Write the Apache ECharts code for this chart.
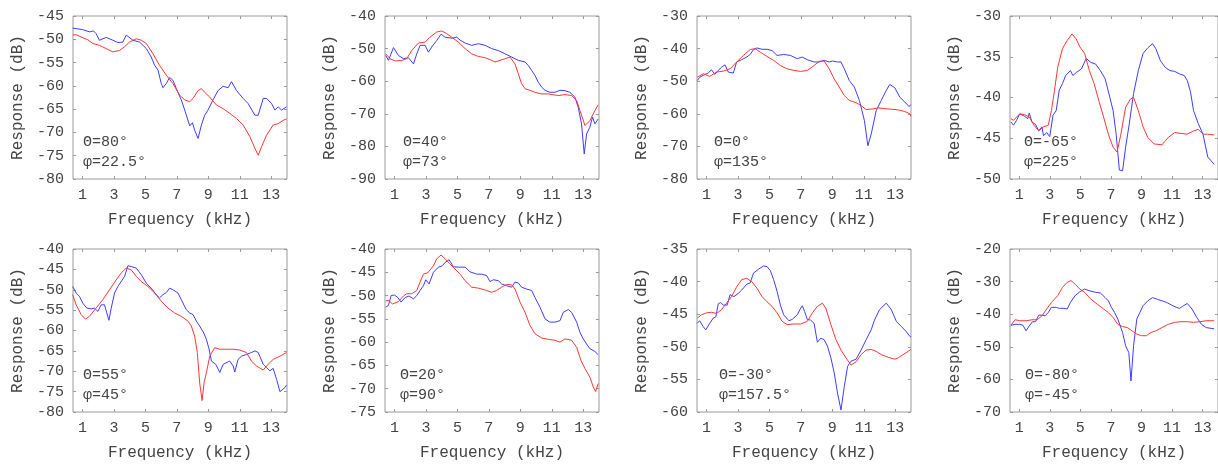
<!DOCTYPE html>
<html>
<head>
<meta charset="utf-8">
<script src="https://cdn.jsdelivr.net/npm/echarts@6/dist/echarts.min.js"></script>
<style>
html, body { margin: 0; padding: 0; background: #fff; }
#main { width: 1218px; height: 466px; }
</style>
</head>
<body>
<div id="main"></div>
<script>
// frequency ticks (kHz)
var xTicks = [1, 3, 5, 7, 9, 11, 13];
var xName = 'Frequency (kHz)';
var yName = 'Response (dB)';

// y ranges per panel: [min, max, step]
var yRanges = [[-80, -45, 5], [-90, -40, 10], [-80, -30, 10], [-50, -30, 5],
               [-80, -40, 5], [-75, -40, 5], [-60, -35, 5], [-70, -20, 10]];

var angleLabels = [['Θ=80°', 'φ=22.5°'], ['Θ=40°', 'φ=73°'], ['Θ=0°', 'φ=135°'], ['Θ=-65°', 'φ=225°'],
                   ['Θ=55°', 'φ=45°'], ['Θ=20°', 'φ=90°'], ['Θ=-30°', 'φ=157.5°'], ['Θ=-80°', 'φ=-45°']];

// [kHz, dB]
var blue1 = [[0.38,-47.6],[0.98,-47.9],[1.45,-48.4],[1.70,-48.2],[1.87,-48.8],[2.08,-50.2],[2.51,-49.6],[2.93,-50.2],[3.25,-50.7],[3.57,-50.6],[3.78,-49.1],[4.21,-50.2],[4.63,-50.6],[5.06,-52],[5.37,-53.8],[5.59,-55.6],[5.80,-56.6],[6.01,-59.5],[6.12,-60.4],[6.33,-59.5],[6.54,-58.2],[6.75,-58.8],[6.97,-60.6],[7.28,-63],[7.50,-65.2],[7.82,-68.6],[7.99,-67.9],[8.13,-69.5],[8.35,-71.3],[8.56,-68.4],[8.77,-66.3],[8.98,-65.2],[9.30,-63],[9.62,-61],[9.94,-60.1],[10.26,-60.4],[10.47,-59.1],[10.79,-61],[11.21,-62.7],[11.53,-63.8],[11.96,-66.3],[12.17,-66.3],[12.49,-62.7],[12.70,-62.7],[13.02,-63.8],[13.23,-65.2],[13.44,-64.5],[13.65,-65.2],[13.97,-64.5]];
var red1 = [[0.38,-49.1],[0.60,-49],[0.98,-49.6],[1.34,-50.1],[1.66,-50.9],[2.08,-51.3],[2.51,-52],[2.93,-52.7],[3.36,-52.4],[3.68,-51.6],[3.99,-50.6],[4.42,-49.9],[4.74,-50.2],[5.06,-50.9],[5.48,-53.1],[5.90,-55.6],[6.33,-57.7],[6.75,-59.5],[7.18,-62],[7.50,-63],[7.82,-63.4],[8.03,-62.7],[8.35,-61],[8.56,-60.6],[8.77,-61.4],[9.09,-62.4],[9.51,-64.1],[9.94,-64.9],[10.36,-65.9],[10.79,-67],[11.21,-68.4],[11.64,-70.9],[11.96,-73.4],[12.17,-74.9],[12.38,-73.1],[12.70,-70.6],[13.12,-68.4],[13.44,-68.1],[13.76,-67.4],[13.97,-67.1]];

var blue2 = [[0.45,-52.1],[0.62,-53.6],[0.94,-49.7],[1.25,-52.1],[1.57,-53.1],[1.89,-52.8],[2.21,-54.7],[2.42,-51.6],[2.63,-49],[2.95,-49],[3.16,-51.1],[3.37,-49.5],[3.69,-47.5],[3.96,-45.6],[4.22,-46.5],[4.64,-46.8],[4.96,-46.5],[5.17,-47.4],[5.49,-48.3],[5.91,-49],[6.33,-48.5],[6.76,-49],[7.18,-50],[7.60,-50.6],[8.03,-51.6],[8.45,-52.6],[8.87,-53.6],[9.30,-54.1],[9.51,-55.2],[9.72,-56.7],[9.93,-58.2],[10.14,-60.3],[10.35,-61.8],[10.57,-62.8],[10.88,-63.4],[11.20,-63.4],[11.52,-62.8],[11.84,-62.9],[12.15,-63.4],[12.47,-64.9],[12.68,-68],[12.89,-73.1],[13.06,-82.3],[13.21,-76.2],[13.42,-74.1],[13.59,-71],[13.74,-73.1],[13.95,-71.6]];
var red2 = [[0.45,-51.6],[0.72,-53.1],[1.04,-53.8],[1.47,-53.6],[1.78,-53.1],[2.10,-50.6],[2.52,-48.3],[2.95,-48],[3.26,-46.5],[3.69,-44.9],[4.01,-44.6],[4.32,-45.4],[4.64,-46.5],[5.06,-48],[5.49,-50],[5.91,-51.6],[6.33,-52.4],[6.76,-52.8],[7.18,-53.6],[7.39,-54.1],[7.71,-53.6],[8.03,-53.1],[8.34,-52.6],[8.66,-54.7],[8.87,-57.7],[9.08,-60.8],[9.30,-62.3],[9.61,-62.8],[9.93,-63.4],[10.35,-63.9],[10.78,-63.9],[11.41,-64.4],[11.84,-64.1],[12.26,-64.4],[12.58,-65.9],[12.79,-69],[13.11,-73.6],[13.42,-72.1],[13.74,-69],[13.95,-67.2]];

var blue3 = [[0.42,-49.8],[0.57,-48.8],[0.79,-48.2],[1.11,-47.5],[1.32,-46.5],[1.53,-47.9],[1.75,-46.7],[1.96,-45.7],[2.18,-45],[2.39,-47.2],[2.71,-47.5],[2.92,-44.1],[3.24,-43.4],[3.56,-42.6],[3.78,-41.8],[3.99,-40.3],[4.21,-39.8],[4.53,-40.2],[4.85,-40.2],[5.17,-40.6],[5.49,-42.1],[5.91,-41.8],[6.34,-42.1],[6.77,-43.1],[7.09,-42.6],[7.41,-43.4],[7.84,-44.1],[8.16,-44.1],[8.48,-43.6],[8.80,-44.1],[9.01,-43.8],[9.33,-44.1],[9.55,-44.1],[9.76,-46.2],[10.08,-49.8],[10.40,-51.8],[10.72,-55.9],[11.04,-62.1],[11.26,-69.8],[11.47,-66.2],[11.79,-59],[12.11,-55.9],[12.43,-52.8],[12.65,-51],[12.97,-52],[13.29,-54.9],[13.61,-56.4],[13.88,-57.8],[13.98,-57.2]];
var red3 = [[0.42,-48.8],[0.79,-47.7],[1.21,-48.5],[1.64,-47.2],[2.07,-46.9],[2.50,-46.2],[2.92,-44.1],[3.35,-42.1],[3.78,-40.3],[4.10,-40],[4.42,-41.1],[4.85,-42.4],[5.27,-43.6],[5.70,-45.2],[6.13,-46.2],[6.56,-46.7],[6.98,-47],[7.41,-46.7],[7.84,-45.2],[8.16,-43.9],[8.48,-43.8],[8.80,-46.2],[9.12,-49.3],[9.44,-51.8],[9.76,-54.4],[10.08,-55.9],[10.51,-56.6],[10.83,-57.5],[11.15,-58.7],[11.58,-58.5],[11.90,-58.2],[12.54,-58.5],[13.18,-58.8],[13.61,-59.3],[13.93,-60],[14.0,-60.8]];

var blue4 = [[0.46,-43],[0.63,-43.4],[0.83,-42.8],[1.04,-42],[1.35,-42.3],[1.56,-42.6],[1.66,-41.9],[1.83,-43],[2.07,-43.3],[2.28,-44.1],[2.49,-43.6],[2.59,-44.7],[2.80,-44.3],[3.00,-44.8],[3.21,-42.2],[3.42,-41.6],[3.62,-39.1],[3.83,-38.3],[4.04,-37.3],[4.35,-36.7],[4.51,-37.3],[4.76,-36.9],[5.07,-36.5],[5.38,-35.2],[5.69,-35.7],[6.00,-35.9],[6.31,-36.7],[6.62,-37.7],[6.93,-40],[7.14,-41.6],[7.34,-44.5],[7.55,-48.9],[7.76,-49],[7.96,-46.1],[8.17,-43.6],[8.48,-39.5],[8.79,-36.7],[9.10,-34.6],[9.41,-33.9],[9.72,-33.4],[9.93,-34],[10.24,-35.5],[10.55,-36.3],[10.86,-36.7],[11.17,-36.8],[11.48,-37.1],[11.79,-37.3],[11.99,-37.9],[12.20,-39.3],[12.40,-41.6],[12.71,-43.2],[13.02,-44.5],[13.33,-47.3],[13.75,-48.2]];
var red4 = [[0.46,-42.6],[0.63,-42.8],[1.04,-42],[1.35,-42.1],[1.66,-42.4],[1.97,-43.4],[2.28,-44.1],[2.59,-43.6],[2.90,-43.4],[3.11,-41.6],[3.31,-39.1],[3.52,-36.3],[3.83,-34],[4.14,-33],[4.45,-32.2],[4.72,-32.8],[4.97,-33.8],[5.28,-34.6],[5.59,-36.7],[5.90,-38.3],[6.21,-40.4],[6.52,-42.4],[6.83,-44.5],[7.14,-46.1],[7.40,-46.7],[7.65,-44.5],[7.96,-41.2],[8.27,-40.2],[8.48,-40],[8.79,-41.6],[9.10,-43.6],[9.41,-44.9],[9.82,-45.7],[10.34,-45.8],[10.75,-44.9],[11.17,-44.3],[11.58,-44.4],[11.99,-44.5],[12.40,-44.1],[12.71,-43.9],[13.02,-44.5],[13.33,-44.5],[13.75,-44.6]];

var blue5 = [[0.38,-49.2],[0.60,-50.8],[0.81,-51.6],[1.02,-53.3],[1.28,-54.5],[1.55,-54.7],[1.76,-54.5],[1.98,-55.3],[2.19,-53.7],[2.40,-53.7],[2.55,-55.7],[2.68,-57.5],[2.83,-54.5],[3.04,-50.8],[3.25,-49.2],[3.53,-47.6],[3.68,-46.7],[3.89,-44.1],[4.10,-44.3],[4.42,-44.7],[4.74,-46.3],[5.06,-48.4],[5.37,-49.6],[5.69,-51.2],[5.90,-52],[6.12,-51.2],[6.33,-50.7],[6.54,-49.6],[6.75,-50],[7.07,-50.8],[7.28,-52.4],[7.60,-54.9],[7.82,-55.7],[8.03,-56.1],[8.24,-57.7],[8.45,-58.9],[8.71,-60.6],[8.88,-62.2],[9.05,-64.6],[9.20,-67.5],[9.47,-68.3],[9.73,-70.3],[9.94,-68.3],[10.36,-67.5],[10.58,-68.7],[10.68,-70.2],[10.89,-67.1],[11.11,-66.3],[11.42,-65.9],[11.74,-65.4],[11.96,-65],[12.17,-65.4],[12.49,-68.3],[12.70,-69.1],[12.91,-69.9],[13.12,-69.3],[13.34,-72],[13.55,-75],[13.87,-74],[13.97,-73.4]];
var red5 = [[0.38,-51.2],[0.60,-53.7],[0.92,-56.1],[1.19,-57.2],[1.45,-56.5],[1.87,-54.5],[2.30,-52.4],[2.72,-50],[3.14,-47.6],[3.46,-45.9],[3.78,-44.7],[4.10,-45.1],[4.42,-46.7],[4.74,-48],[5.16,-49.2],[5.59,-50.8],[6.01,-52.8],[6.44,-54.5],[6.86,-55.7],[7.28,-56.5],[7.71,-57.7],[7.92,-58.9],[8.13,-61.4],[8.30,-65.4],[8.45,-72.8],[8.60,-77.2],[8.73,-72.8],[8.88,-70.3],[9.09,-66.3],[9.41,-64.2],[9.73,-64.6],[10.15,-64.6],[10.58,-64.6],[11.00,-64.8],[11.42,-65.4],[11.74,-67.5],[12.06,-68.7],[12.49,-69.7],[12.80,-68.3],[13.12,-67.1],[13.55,-66.3],[13.97,-65.4]];

var blue6 = [[0.45,-52.5],[0.62,-52.1],[0.79,-50],[1.00,-49.9],[1.21,-50.4],[1.42,-51.4],[1.68,-50.4],[1.93,-50.1],[2.21,-50.7],[2.42,-50],[2.63,-48.9],[2.84,-47.9],[2.99,-46.6],[3.20,-47.5],[3.48,-45],[3.79,-43.9],[4.05,-43.6],[4.22,-42.9],[4.47,-42.3],[4.75,-43.8],[5.06,-43.9],[5.49,-43.9],[5.80,-44.9],[6.23,-45.4],[6.54,-45.4],[6.86,-45.7],[7.07,-47],[7.29,-46.6],[7.60,-46.8],[7.81,-47.5],[8.13,-47.9],[8.45,-48.2],[8.66,-47.1],[8.87,-47.3],[9.08,-48.2],[9.40,-48.6],[9.72,-48.9],[9.93,-50.4],[10.25,-52.5],[10.57,-55],[10.88,-55.7],[11.20,-55.7],[11.52,-55.4],[11.73,-53.6],[12.05,-53],[12.26,-53.6],[12.58,-55.7],[12.79,-57.9],[13.00,-59.3],[13.21,-60.4],[13.42,-61.4],[13.74,-62],[13.95,-62.7]];
var red6 = [[0.45,-51.1],[0.66,-51.1],[0.87,-51.8],[1.25,-51.3],[1.57,-50.1],[1.78,-49.6],[2.10,-49.6],[2.42,-48.9],[2.63,-47.1],[2.84,-45.4],[3.12,-45.1],[3.48,-43.6],[3.69,-42.1],[3.96,-41.3],[4.22,-42.1],[4.53,-43.2],[4.85,-44.3],[5.17,-45.4],[5.49,-46.8],[5.91,-48.2],[6.33,-48.4],[6.86,-48.9],[7.18,-49.3],[7.50,-48.9],[7.81,-48.2],[8.13,-47.6],[8.45,-47.7],[8.66,-48.6],[8.98,-51.4],[9.30,-53.6],[9.61,-56.4],[9.93,-58.2],[10.35,-59.1],[10.78,-59.4],[11.20,-59.6],[11.52,-60],[11.84,-59.3],[12.26,-59.6],[12.58,-61.1],[12.85,-63.9],[13.11,-65.7],[13.42,-67.5],[13.63,-69.6],[13.78,-70.6],[13.95,-68.9]];

var blue7 = [[0.42,-46.4],[0.57,-46],[0.79,-46.9],[0.96,-47.4],[1.21,-46.4],[1.43,-45.6],[1.60,-45.4],[1.75,-43.4],[1.90,-43.2],[2.07,-43.6],[2.32,-43.6],[2.50,-42],[2.75,-42.3],[3.03,-41.8],[3.24,-41.3],[3.56,-40.4],[3.78,-40.2],[3.99,-38.7],[4.31,-38.1],[4.63,-37.6],[4.85,-37.7],[5.06,-38.3],[5.27,-39.7],[5.49,-41.5],[5.70,-43.6],[5.91,-45.1],[6.24,-46],[6.45,-45.8],[6.77,-45.1],[6.94,-44.3],[7.09,-43.7],[7.24,-44.6],[7.41,-45.8],[7.62,-45.9],[7.84,-46.4],[8.05,-49.3],[8.26,-48.7],[8.48,-48.9],[8.69,-49.9],[8.91,-51.7],[9.12,-54],[9.33,-57.1],[9.55,-59.7],[9.76,-56.1],[9.97,-53],[10.19,-52.2],[10.51,-51.9],[10.83,-50.5],[11.15,-48.9],[11.47,-47.4],[11.68,-45.9],[12.00,-44.3],[12.43,-43.3],[12.75,-44.3],[13.07,-46.1],[13.39,-46.9],[13.71,-47.7],[13.93,-48.4],[14.0,-48.5]];
var red7 = [[0.42,-45.6],[0.68,-45.1],[1.00,-44.8],[1.32,-44.7],[1.64,-44.9],[1.96,-44.3],[2.28,-43.3],[2.60,-42.3],[2.92,-40.8],[3.24,-39.7],[3.56,-39.5],[3.88,-40],[4.21,-41],[4.53,-42.3],[4.85,-43.1],[5.17,-43.8],[5.49,-44.8],[5.81,-46.1],[6.13,-46.6],[6.56,-46.5],[6.98,-46.5],[7.41,-46.1],[7.73,-44.8],[8.05,-43.8],[8.37,-43.3],[8.59,-44.1],[8.91,-46.6],[9.23,-48.9],[9.55,-50.5],[9.87,-51.7],[10.19,-52.8],[10.51,-52.3],[10.83,-51.2],[11.15,-50.5],[11.47,-50.4],[11.79,-50.7],[12.11,-51.2],[12.54,-51.6],[12.97,-51.9],[13.18,-51.7],[13.50,-51.2],[13.82,-50.7],[14.0,-50.4]];

var blue8 = [[0.46,-43.4],[0.73,-43.1],[1.04,-43.1],[1.25,-43.4],[1.45,-45.1],[1.66,-43.6],[1.87,-42.3],[2.07,-42.3],[2.28,-40.3],[2.49,-40.3],[2.69,-40.5],[2.90,-39.5],[3.11,-37.9],[3.42,-37.9],[3.62,-38.2],[3.93,-38.2],[4.14,-38.4],[4.35,-36.4],[4.66,-34.3],[4.97,-33.1],[5.28,-32.3],[5.59,-32.8],[6.00,-33.3],[6.31,-33.5],[6.62,-34.9],[6.83,-35.9],[7.03,-37.9],[7.24,-39.5],[7.45,-41.5],[7.76,-45.6],[7.96,-49.7],[8.17,-51.8],[8.31,-60.5],[8.48,-49.7],[8.69,-41.5],[8.89,-39.5],[9.10,-37.4],[9.41,-35.9],[9.72,-34.9],[10.03,-35.4],[10.34,-35.9],[10.65,-36.4],[10.96,-37.2],[11.27,-37.9],[11.48,-38.2],[11.68,-37.6],[11.99,-36.7],[12.30,-38.4],[12.61,-41],[12.92,-43.1],[13.23,-44.1],[13.75,-44.5]];
var red8 = [[0.46,-43.4],[0.73,-41.7],[1.04,-42],[1.45,-42],[1.87,-41.7],[2.18,-41.7],[2.49,-40.5],[2.80,-38.4],[3.11,-36.4],[3.52,-34.3],[3.83,-31.8],[4.14,-30.2],[4.39,-29.7],[4.66,-30.8],[4.97,-32.3],[5.28,-33.3],[5.69,-35.4],[6.10,-36.9],[6.52,-38.4],[6.83,-39.5],[7.14,-41],[7.45,-43.1],[7.76,-43.8],[8.07,-44.1],[8.38,-45.1],[8.69,-46.1],[9.00,-46.6],[9.31,-46.6],[9.62,-45.6],[9.93,-45.1],[10.34,-44.1],[10.75,-43.1],[11.17,-42.5],[11.58,-42.3],[11.99,-42.3],[12.40,-42.5],[12.82,-42.3],[13.23,-42],[13.75,-42]];

var blueSeries = [blue1, blue2, blue3, blue4, blue5, blue6, blue7, blue8];
var redSeries = [red1, red2, red3, red4, red5, red6, red7, red8];

// layout
var colLeft = [73, 385, 697, 1010];
var rowTop = [16, 249];
var plotW = 214, plotH = 163;
var labelDx = [10, 18, 17, 14, 10, 15, 22, 15];
var boxColor = '#9a9a9a';
var textColor = '#444';
var monoFont = '"Liberation Mono", "DejaVu Sans Mono", monospace';

function buildOption() {
	var grids = [], xAxes = [], yAxes = [], series = [], texts = [];
	for (var i = 0; i < 8; i++) {
		var gLeft = colLeft[i % 4], gTop = rowTop[Math.floor(i / 4)];
		grids.push({
			left: gLeft, top: gTop, width: plotW, height: plotH,
			show: true, borderColor: boxColor, borderWidth: 1
		});
		// bottom x axis with labels
		xAxes.push({
			gridIndex: i, type: 'value', min: 0.4, max: 14, position: 'bottom',
			name: xName, nameLocation: 'middle', nameGap: 33,
			nameTextStyle: { fontFamily: monoFont, fontSize: 16, color: textColor },
			axisLine: { show: false },
			axisTick: { show: true, inside: true, length: 3, customValues: xTicks, lineStyle: { color: boxColor } },
			axisLabel: { customValues: xTicks, fontFamily: monoFont, fontSize: 15, color: textColor, margin: 9 },
			splitLine: { show: false }
		});
		// top mirror ticks
		xAxes.push({
			gridIndex: i, type: 'value', min: 0.4, max: 14, position: 'top',
			axisLine: { show: false },
			axisTick: { show: true, inside: true, length: 3, customValues: xTicks, lineStyle: { color: boxColor } },
			axisLabel: { show: false },
			splitLine: { show: false }
		});
		var yr = yRanges[i];
		yAxes.push({
			gridIndex: i, type: 'value', min: yr[0], max: yr[1], interval: yr[2], position: 'left',
			name: yName, nameLocation: 'middle', nameGap: 47,
			nameTextStyle: { fontFamily: monoFont, fontSize: 16, color: textColor },
			axisLine: { show: false },
			axisTick: { show: true, inside: true, length: 3, lineStyle: { color: boxColor } },
			axisLabel: { fontFamily: monoFont, fontSize: 15, color: textColor, margin: 9 },
			splitLine: { show: false }
		});
		// right mirror ticks
		yAxes.push({
			gridIndex: i, type: 'value', min: yr[0], max: yr[1], interval: yr[2], position: 'right',
			axisLine: { show: false },
			axisTick: { show: true, inside: true, length: 3, lineStyle: { color: boxColor } },
			axisLabel: { show: false },
			splitLine: { show: false }
		});
		series.push({
			type: 'line', xAxisIndex: 2 * i, yAxisIndex: 2 * i, data: blueSeries[i],
			showSymbol: false, symbol: 'none', lineStyle: { color: '#3d3dff', width: 1 }, silent: true, z: 3
		});
		series.push({
			type: 'line', xAxisIndex: 2 * i, yAxisIndex: 2 * i, data: redSeries[i],
			showSymbol: false, symbol: 'none', lineStyle: { color: '#ff3535', width: 1 }, silent: true, z: 4
		});
		var lab = angleLabels[i];
		texts.push({ type: 'text', left: gLeft + labelDx[i], top: gTop + 119,
			style: { text: lab[0], fontFamily: monoFont, fontSize: 15, fill: textColor } });
		texts.push({ type: 'text', left: gLeft + labelDx[i], top: gTop + 139,
			style: { text: lab[1], fontFamily: monoFont, fontSize: 15, fill: textColor } });
	}
	return {
		animation: false,
		backgroundColor: '#fff',
		grid: grids,
		xAxis: xAxes,
		yAxis: yAxes,
		series: series,
		graphic: texts
	};
}

var chart = echarts.init(document.getElementById('main'));
chart.setOption(buildOption());
</script>
</body>
</html>
